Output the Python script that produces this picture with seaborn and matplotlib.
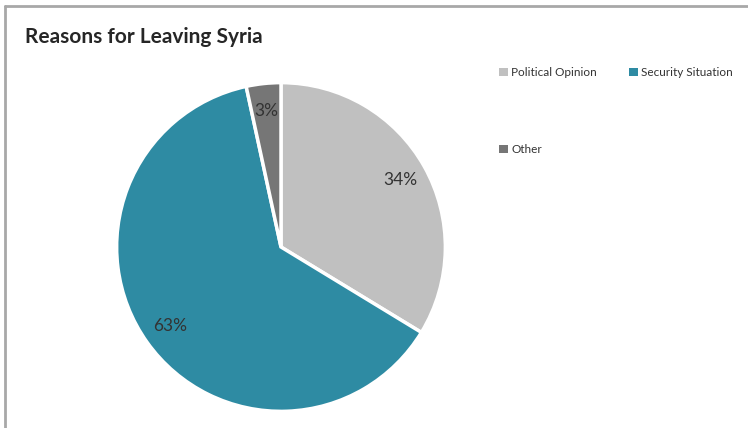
import matplotlib
matplotlib.use("Agg")
import matplotlib.pyplot as plt
from matplotlib.lines import Line2D
from matplotlib.patches import Patch
import seaborn as sns

categories = ["Political Opinion", "Security Situation", "Other"]
shares = [33.7, 62.9, 3.4]
colors = ["#c0c0c0", "#2e8ba3", "#767676"]
title = "Reasons for Leaving Syria"

sns.set_theme(style="white")
plt.rcParams["font.family"] = ["Lato", "DejaVu Sans"]

W, H = 748, 428
fig = plt.figure(figsize=(W / 100, H / 100), dpi=100)
fig.patch.set_facecolor("white")

cx, cy, r = 281, 247, 166
ax = fig.add_axes([(cx - r) / W, (H - cy - r) / H, 2 * r / W, 2 * r / H])
wedges, texts, autotexts = ax.pie(
    shares,
    colors=colors,
    startangle=90,
    counterclock=False,
    autopct=lambda p: f"{p:.0f}%",
    pctdistance=0.83,
    wedgeprops=dict(edgecolor="white", linewidth=2.5),
    textprops=dict(color="#333333", fontsize=12.5),
)
ax.set_xlim(-1.01, 1.01)
ax.set_ylim(-1.01, 1.01)
ax.set_aspect("equal")
ax.axis("off")

fig.text(25 / W, 1 - 37 / H, title, fontsize=15, fontweight="bold",
         color="#262626", va="center", ha="left")

# legend laid out row-wise: Political, Security / Other
order = [0, 2, 1]
handles = [Patch(facecolor=colors[i], edgecolor="none") for i in order]
labels = [categories[i] for i in order]
leg = fig.legend(handles, labels, loc="upper left",
                 bbox_to_anchor=(499 / W, 1 - 67 / H), ncol=2,
                 frameon=False, fontsize=8.5, handlelength=0.75, handleheight=0.75,
                 handletextpad=0.3, columnspacing=2.7, labelspacing=5.6,
                 borderaxespad=0, borderpad=0)
for t in leg.get_texts():
    t.set_color("#333333")

border = "#a8a8a8"
fig.add_artist(Line2D([5 / W, 1], [1 - 6 / H, 1 - 6 / H], color=border, lw=2,
                      transform=fig.transFigure))
fig.add_artist(Line2D([5 / W, 5 / W], [0, 1 - 6 / H], color=border, lw=2,
                      transform=fig.transFigure))

fig.savefig("out.png", dpi=100, facecolor="white")
